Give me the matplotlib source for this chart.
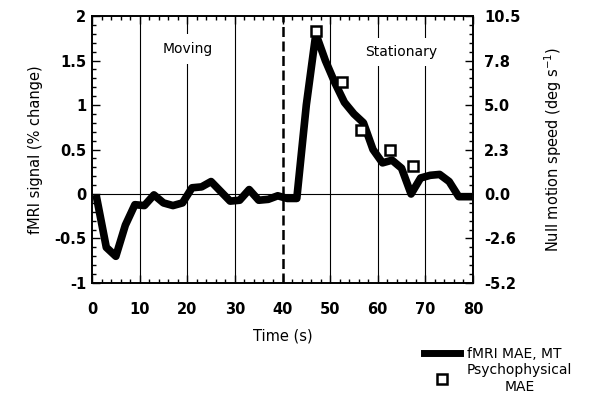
import matplotlib
matplotlib.use("Agg")
import matplotlib.pyplot as plt
from matplotlib.ticker import MultipleLocator
from matplotlib.lines import Line2D

# fMRI MAE response in MT (% change), one sample every 2 s
tiempo = [1, 3, 5, 7, 9, 11, 13, 15, 17, 19, 21, 23, 25, 27, 29, 31, 33, 35, 37, 39,
          41, 43, 45, 47, 49, 51, 53, 55, 57, 59, 61, 63, 65, 67, 69, 71, 73, 75, 77, 79]
fmri = [-0.05, -0.6, -0.7, -0.35, -0.12, -0.13, -0.01, -0.1, -0.13, -0.1,
        0.07, 0.08, 0.14, 0.03, -0.08, -0.07, 0.05, -0.07, -0.06, -0.02,
        -0.05, -0.05, 1.0, 1.8, 1.5, 1.25, 1.03, 0.9, 0.8, 0.5,
        0.35, 0.38, 0.29, 0.0, 0.18, 0.21, 0.22, 0.14, -0.03, -0.03]

# psychophysical MAE (drawn on the fMRI scale)
psico_t = [47, 52.5, 56.5, 62.5, 67.5]
psico_y = [1.83, 1.26, 0.72, 0.5, 0.32]

yticks_izq = [-1, -0.5, 0, 0.5, 1, 1.5, 2]
yticks_izq_lbl = ['-1', '-0.5', '0', '0.5', '1', '1.5', '2']
yticks_der_lbl = ['-5.2', '-2.6', '0.0', '2.3', '5.0', '7.8', '10.5']
xticks = [0, 10, 20, 30, 40, 50, 60, 70, 80]

fig = plt.figure(figsize=(5.96, 4.01), dpi=100)
ax = fig.add_axes([0.1544, 0.2943, 0.6392, 0.6657])

# lineas verticales y horizontal de referencia
for xv in [10, 20, 30, 50, 60, 70]:
    ax.axvline(xv, color='black', lw=0.8, zorder=1)
ax.axvline(40, color='black', lw=1.8, dashes=(4, 1.8), zorder=1)
ax.axhline(0, color='black', lw=0.8, zorder=1)

ax.text(20, 1.63, 'Moving', ha='center', va='center', fontsize=10, zorder=2,
        bbox=dict(facecolor='white', edgecolor='none', pad=6))
ax.text(65, 1.6, 'Stationary', ha='center', va='center', fontsize=10, zorder=2,
        bbox=dict(facecolor='white', edgecolor='none', pad=5))

ax.plot(tiempo, fmri, color='black', lw=5.5, solid_joinstyle='round', zorder=3)
ax.plot(psico_t, psico_y, 's', ms=7, mfc='white', mec='black', mew=1.8, zorder=4)

ax.set_xlim(0, 80)
ax.set_ylim(-1, 2)
ax.set_xticks(xticks)
ax.set_xticklabels([str(x) for x in xticks], fontweight='bold', fontsize=10.5)
ax.set_yticks(yticks_izq)
ax.set_yticklabels(yticks_izq_lbl, fontweight='bold', fontsize=10.5)
ax.xaxis.set_minor_locator(MultipleLocator(2))
ax.yaxis.set_minor_locator(MultipleLocator(0.1))
ax.tick_params(which='both', direction='in', top=True, right=False, width=1)
ax.tick_params(which='major', length=6)
ax.tick_params(axis='x', which='major', pad=14)
ax.tick_params(axis='y', which='major', pad=4)
ax.tick_params(which='minor', length=3)
ax.set_xlabel('Time (s)', fontsize=10.5, labelpad=8)
ax.set_ylabel('fMRI signal (% change)', fontsize=10.5, labelpad=8)

ax2 = ax.twinx()
ax2.set_ylim(-1, 2)
ax2.set_yticks(yticks_izq)
ax2.set_yticklabels(yticks_der_lbl, fontweight='bold', fontsize=10.5)
ax2.yaxis.set_minor_locator(MultipleLocator(0.1))
ax2.tick_params(which='both', direction='in', width=1)
ax2.tick_params(which='major', length=6, pad=8)
ax2.tick_params(which='minor', length=3)
ax2.set_ylabel('Null motion speed (deg s$^{-1}$)', fontsize=10.5, labelpad=16)

for a in (ax, ax2):
    for s in a.spines.values():
        s.set_linewidth(1.2)

handles = [Line2D([], [], color='black', lw=5),
           Line2D([], [], ls='none', marker='s', ms=7, mfc='white', mec='black', mew=1.8)]
leg = fig.legend(handles, ['fMRI MAE, MT', 'Psychophysical\nMAE'],
                 loc='upper left', bbox_to_anchor=(0.69, 0.165), frameon=False,
                 fontsize=10, handlelength=2.6, handletextpad=0.5, labelspacing=0.15)
for t in leg.get_texts():
    t.set_multialignment('center')

fig.savefig('out.png', dpi=100)
